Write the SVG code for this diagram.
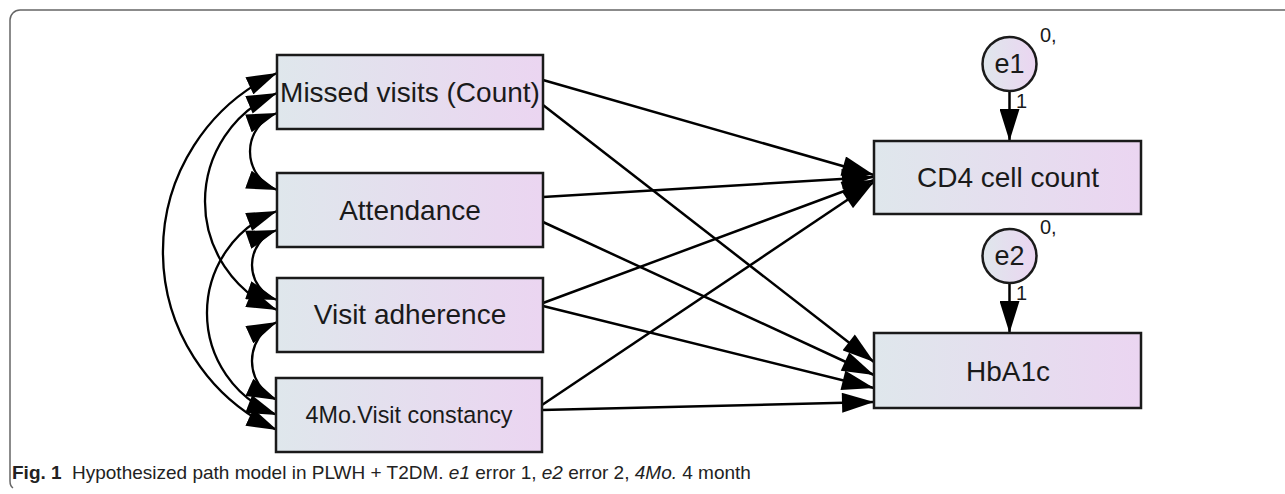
<svg xmlns="http://www.w3.org/2000/svg" width="1285" height="494" viewBox="0 0 1285 494">
  <defs>
    <linearGradient id="boxFill" x1="0" y1="0" x2="1" y2="0">
      <stop offset="0" stop-color="#dfe7ec"/>
      <stop offset="1" stop-color="#ebd5f1"/>
    </linearGradient>
    <marker id="head" viewBox="0 0 32 20" refX="32" refY="10" markerWidth="33" markerHeight="20" markerUnits="userSpaceOnUse" orient="auto-start-reverse">
      <path d="M0,0 L32,10 L0,20 Z" fill="#000"/>
    </marker>
    <marker id="headSmall" viewBox="0 0 32 20" refX="32" refY="10" markerWidth="31" markerHeight="19" markerUnits="userSpaceOnUse" orient="auto-start-reverse">
      <path d="M0,0 L32,10 L0,20 Z" fill="#000"/>
    </marker>
  </defs>
  <style>
    .box { fill: url(#boxFill); stroke: #1a1a1a; stroke-width: 2.5; }
    .lbl { font-family: "Liberation Sans", Arial, sans-serif; font-size: 28px; fill: #1a1a1a; text-anchor: middle; }
    .small { font-family: "Liberation Sans", Arial, sans-serif; font-size: 20px; fill: #1a1a1a; }
    .path { fill: none; stroke: #000; stroke-width: 2.5; marker-end: url(#head); }
    .cov { fill: none; stroke: #000; stroke-width: 2.3; marker-start: url(#headSmall); marker-end: url(#headSmall); }
    .frame { fill: none; stroke: #666; stroke-width: 1.5; }
    .cap { font-family: "Liberation Sans", Arial, sans-serif; font-size: 19px; fill: #222; }
  </style>

  <!-- figure frame -->
  <path class="frame" d="M1285,10 H20 A10,10 0 0 0 10,20 V481 Q10,486 13,488"/>

  <!-- connectors -->
  <g id="connectors">
    <!-- covariances between the four predictors -->
    <path class="cov" d="M277,113 A40.95,40.95 0 0 0 277,190"/>
    <path class="cov" d="M277,230 A37,37 0 0 0 277,300"/>
    <path class="cov" d="M277,322 A42.9,42.9 0 0 0 277,400"/>
    <path class="cov" d="M277,93 A117.75,117.75 0 0 0 277,310"/>
    <path class="cov" d="M277,211 A109.3,109.3 0 0 0 277,415"/>
    <path class="cov" d="M277,73 A196.7,196.7 0 0 0 277,430"/>

    <!-- regression paths to CD4 cell count -->
    <path class="path" d="M543,80 L874,175"/>
    <path class="path" d="M543,197 L874,177"/>
    <path class="path" d="M543,303 L874,180"/>
    <path class="path" d="M542,405 L874,182"/>

    <!-- regression paths to HbA1c -->
    <path class="path" d="M543,105 L874,362"/>
    <path class="path" d="M543,222 L874,375"/>
    <path class="path" d="M543,306 L874,388"/>
    <path class="path" d="M542,410 L874,402"/>

    <!-- error terms -->
    <path class="path" d="M1009.5,91 L1009.5,141"/>
    <path class="path" d="M1009.5,283 L1009.5,333"/>
  </g>

  <!-- predictors -->
  <g id="missed-visits">
    <rect class="box" x="277" y="55" width="266" height="74"/>
    <text class="lbl" x="410" y="102">Missed visits (Count)</text>
  </g>
  <g id="attendance">
    <rect class="box" x="277" y="173" width="266" height="74"/>
    <text class="lbl" x="410" y="220">Attendance</text>
  </g>
  <g id="visit-adherence">
    <rect class="box" x="277" y="278" width="266" height="74"/>
    <text class="lbl" x="410" y="324">Visit adherence</text>
  </g>
  <g id="visit-constancy">
    <rect class="box" x="276" y="378" width="266" height="74"/>
    <text class="lbl" x="409" y="423" style="font-size:24.5px" textLength="207" lengthAdjust="spacingAndGlyphs">4Mo.Visit constancy</text>
  </g>

  <!-- outcomes -->
  <g id="cd4">
    <rect class="box" x="874" y="141" width="267" height="73"/>
    <text class="lbl" x="1008" y="187">CD4 cell count</text>
  </g>
  <g id="hba1c">
    <rect class="box" x="874" y="333" width="267" height="75"/>
    <text class="lbl" x="1008" y="381">HbA1c</text>
  </g>

  <!-- error terms -->
  <g id="e1">
    <circle cx="1009.5" cy="64" r="27" fill="url(#boxFill)" stroke="#1a1a1a" stroke-width="2.5"/>
    <text class="lbl" x="1009.5" y="73" style="font-size:27px">e1</text>
    <text class="small" x="1040" y="42">0,</text>
    <text class="small" x="1016" y="108">1</text>
  </g>
  <g id="e2">
    <circle cx="1009.5" cy="256" r="27" fill="url(#boxFill)" stroke="#1a1a1a" stroke-width="2.5"/>
    <text class="lbl" x="1009.5" y="265" style="font-size:27px">e2</text>
    <text class="small" x="1040" y="234">0,</text>
    <text class="small" x="1016" y="300">1</text>
  </g>

  <!-- caption -->
  <text class="cap" x="12" y="479"><tspan font-weight="bold">Fig. 1</tspan><tspan x="72">Hypothesized path model in PLWH + T2DM. </tspan><tspan font-style="italic">e1</tspan><tspan> error 1, </tspan><tspan font-style="italic">e2</tspan><tspan> error 2, </tspan><tspan font-style="italic">4Mo.</tspan><tspan> 4 month</tspan></text>
</svg>
